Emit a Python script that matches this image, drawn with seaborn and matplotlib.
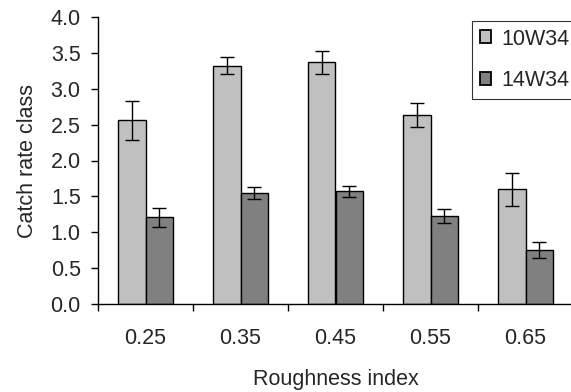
import pandas as pd
import matplotlib.pyplot as plt
import seaborn as sns
from matplotlib.ticker import FixedLocator

# Data
roughness = ['0.25', '0.35', '0.45', '0.55', '0.65']
catch_10w34 = [2.56, 3.32, 3.37, 2.63, 1.60]
err_10w34 = [0.27, 0.12, 0.16, 0.17, 0.23]
catch_14w34 = [1.21, 1.55, 1.57, 1.23, 0.75]
err_14w34 = [0.13, 0.08, 0.08, 0.10, 0.11]
series = ['10W34', '14W34']
colors = ['#C0C0C0', '#808080']

df = pd.DataFrame({
    'Roughness index': roughness * 2,
    'Catch rate class': catch_10w34 + catch_14w34,
    'err': err_10w34 + err_14w34,
    'series': [series[0]] * 5 + [series[1]] * 5,
})

sns.set_style('white')
plt.rcParams['font.family'] = ['Liberation Sans', 'DejaVu Sans']
fs = 15.5

fig = plt.figure(figsize=(5.71, 3.92), dpi=100)
ax = fig.add_axes([98 / 571, 1 - 304 / 392, 475 / 571, 287 / 392])

sns.barplot(data=df, x='Roughness index', y='Catch rate class', hue='series',
            palette=colors, width=0.57, edgecolor='black', linewidth=1,
            errorbar=None, ax=ax, legend=True)

# error bars placed on the bar centres
for cont, s in zip(ax.containers, series):
    sub = df[df['series'] == s]
    xs = [p.get_x() + p.get_width() / 2 for p in cont.patches]
    ax.errorbar(xs, sub['Catch rate class'], yerr=sub['err'], fmt='none',
                ecolor='black', elinewidth=1, capsize=5, capthick=1)

ax.set_xlim(-0.5, 4.5)
ax.set_ylim(0, 4.0)
ax.set_yticks([0, 0.5, 1.0, 1.5, 2.0, 2.5, 3.0, 3.5, 4.0])
ax.set_yticklabels([f'{v:.1f}' for v in ax.get_yticks()])
ax.xaxis.set_minor_locator(FixedLocator([-0.5, 0.5, 1.5, 2.5, 3.5]))
ax.tick_params(axis='x', which='major', length=0, pad=17, labelsize=fs)
ax.tick_params(axis='x', which='minor', length=5, width=1, color='black', bottom=True)
ax.tick_params(axis='y', length=5, width=1, color='black', left=True, labelsize=fs, pad=7.5)

for side in ['top', 'right']:
    ax.spines[side].set_visible(False)
for side in ['left', 'bottom']:
    ax.spines[side].set_color('black')
    ax.spines[side].set_linewidth(1)

ax.set_xlabel('Roughness index', fontsize=fs, labelpad=15)
ax.set_ylabel('Catch rate class', fontsize=fs, labelpad=9)

leg = ax.legend(loc='upper left', bbox_to_anchor=(472 / 571, 1 - 21 / 392),
                bbox_transform=fig.transFigure, frameon=True, fancybox=False,
                fontsize=fs, handlelength=0.55, handleheight=0.55,
                handletextpad=0.45, labelspacing=0.95, borderpad=0.35,
                borderaxespad=0)
leg.get_frame().set_edgecolor('black')
leg.get_frame().set_linewidth(0.8)
for h in leg.legend_handles:
    h.set_linewidth(1.3)

fig.savefig('out.png', dpi=100)
